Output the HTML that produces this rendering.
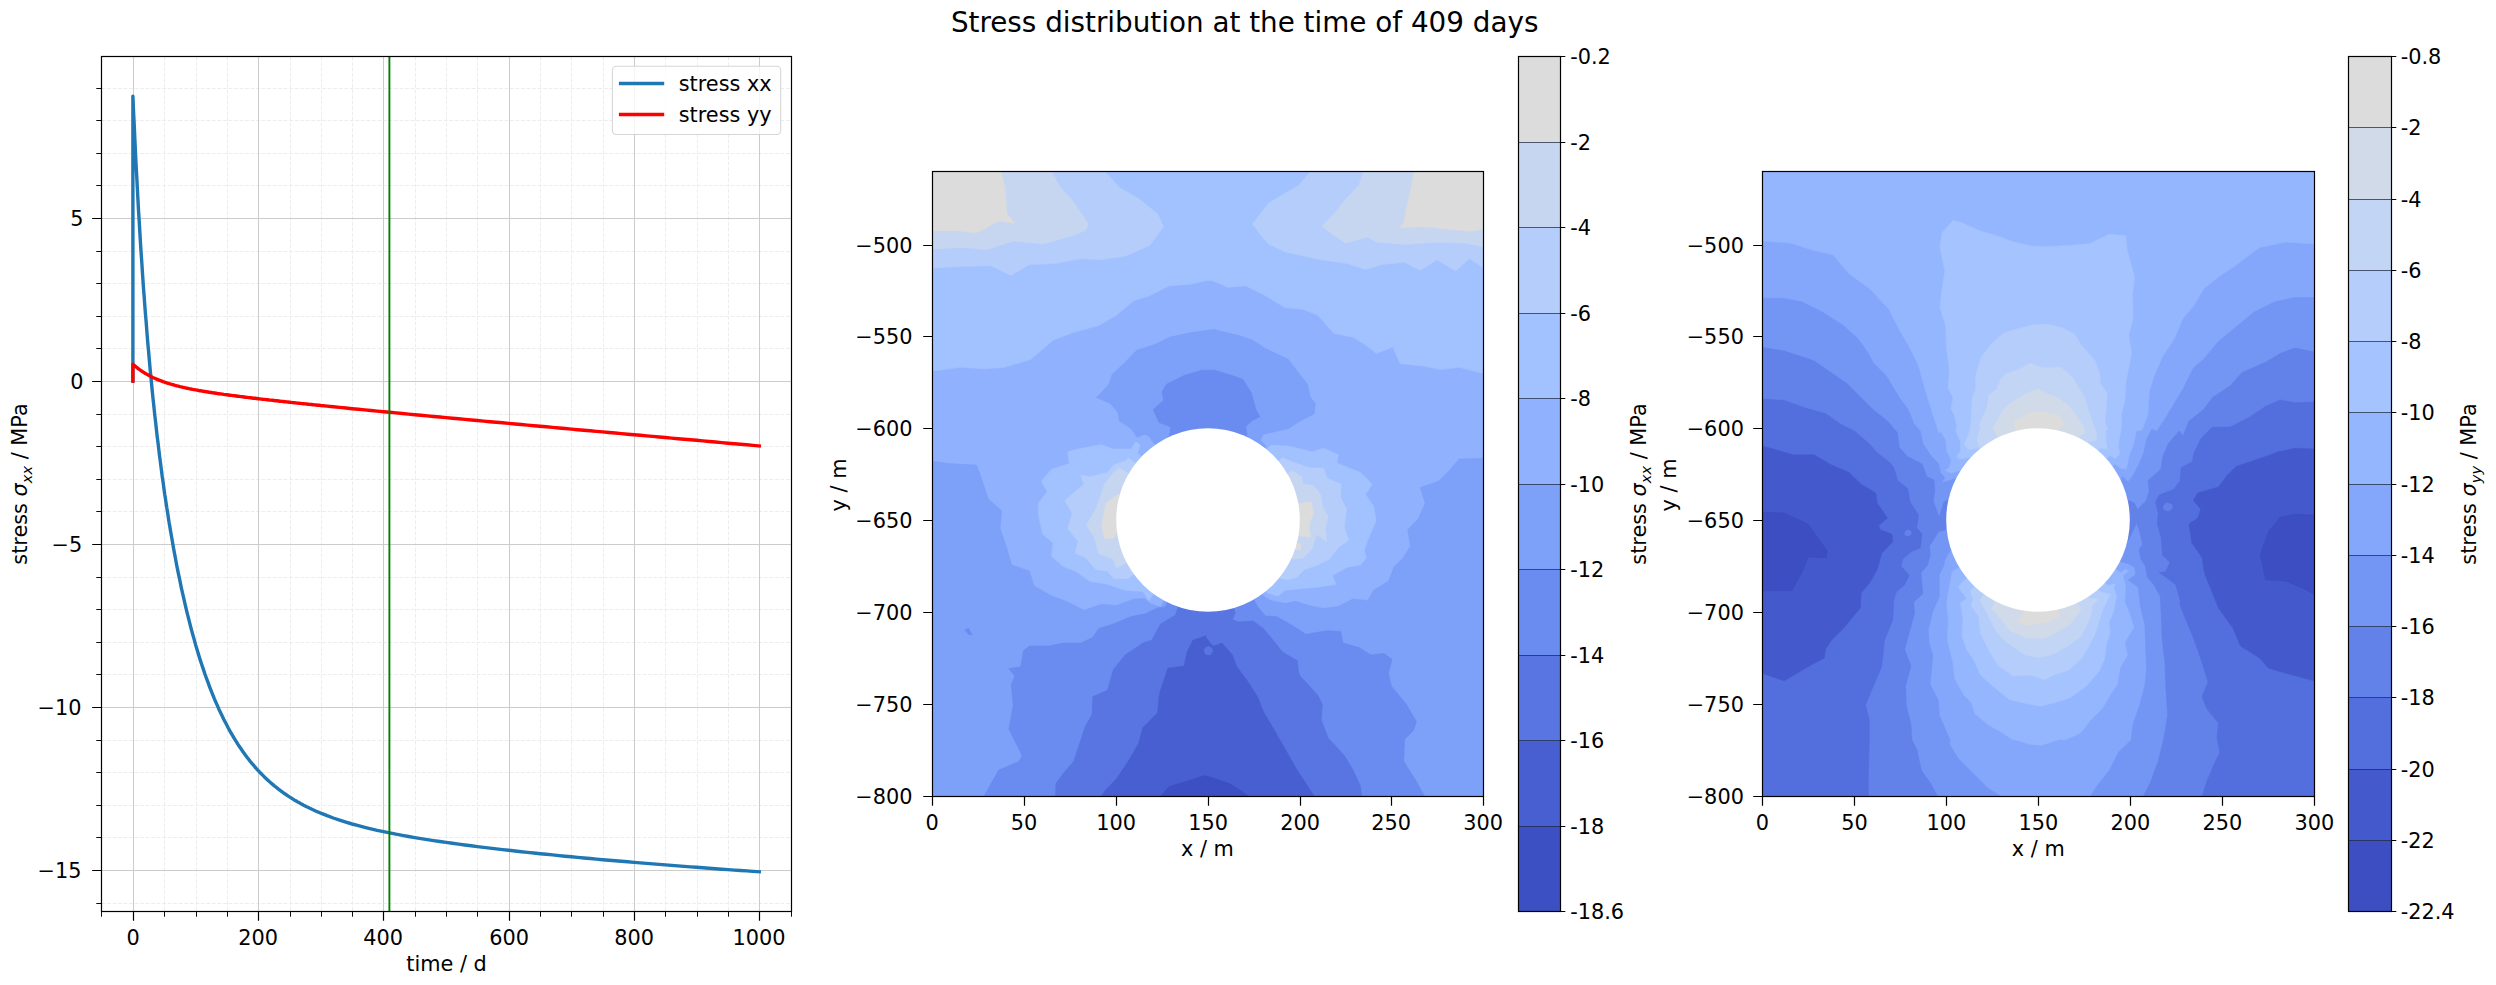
<!DOCTYPE html>
<html lang="en"><head><meta charset="utf-8"><title>Stress distribution at the time of 409 days</title>
<style>html,body{margin:0;padding:0;background:#fff;overflow:hidden}svg{display:block}text{font-family:"DejaVu Sans","Liberation Sans",sans-serif;fill:#000;font-size:20.83px}.t{font-size:27.8px}.i{font-style:italic}.sub{font-style:italic;font-size:14.58px}.sp{fill:none;stroke:#000;stroke-width:1.2}.tk{stroke:#000;stroke-width:1.2;fill:none}.mt{stroke:#000;stroke-width:0.95;fill:none}.gM{stroke:#cccccc;stroke-width:1.04;fill:none}.gm{stroke:#ededed;stroke-width:1.04;fill:none;stroke-dasharray:3.85 1.67}.dv{stroke:#1f2a44;stroke-width:1;fill:none;opacity:.75}</style></head><body>
<svg width="2496" height="985" viewBox="0 0 2496 985" role="img">
<rect width="2496" height="985" fill="#fff"/>
<text class="t" x="950.9" y="31.7">Stress distribution at the time of 409 days</text>
<g id="left-axes">
<clipPath id="cl"><rect x="101.5" y="56.5" width="690.0" height="855.0"/></clipPath>
<g clip-path="url(#cl)">
<path class="gm" d="M164.5,56.5V911.5M196.5,56.5V911.5M227.5,56.5V911.5M290.5,56.5V911.5M321.5,56.5V911.5M352.5,56.5V911.5M415.5,56.5V911.5M446.5,56.5V911.5M477.5,56.5V911.5M540.5,56.5V911.5M571.5,56.5V911.5M603.5,56.5V911.5M665.5,56.5V911.5M697.5,56.5V911.5M728.5,56.5V911.5M101.5,903.5H791.5M101.5,837.5H791.5M101.5,805.5H791.5M101.5,772.5H791.5M101.5,740.5H791.5M101.5,674.5H791.5M101.5,642.5H791.5M101.5,609.5H791.5M101.5,577.5H791.5M101.5,511.5H791.5M101.5,479.5H791.5M101.5,446.5H791.5M101.5,414.5H791.5M101.5,348.5H791.5M101.5,316.5H791.5M101.5,283.5H791.5M101.5,251.5H791.5M101.5,185.5H791.5M101.5,153.5H791.5M101.5,120.5H791.5M101.5,88.5H791.5"/>
<path class="gM" d="M133.5,56.5V911.5M258.5,56.5V911.5M383.5,56.5V911.5M509.5,56.5V911.5M634.5,56.5V911.5M759.5,56.5V911.5M101.5,870.5H791.5M101.5,707.5H791.5M101.5,544.5H791.5M101.5,381.5H791.5M101.5,218.5H791.5"/>
<path d="M132.9,381L132.9,96.1L133.5,110.5L134.2,124.4L134.8,137.9L135.4,150.9L136,163.5L136.7,175.7L137.3,187.5L137.9,199L138.5,210.1L139.2,220.9L139.8,231.4L140.4,241.6L141,251.4L141.7,261L142.3,270.4L142.9,279.5L143.5,288.3L144.2,296.9L144.8,305.3L145.4,313.5L146.1,321.4L146.7,329.2L147.3,336.8L147.9,344.2L148.6,351.4L149.2,358.5L149.8,365.4L150.4,372.1L151.1,378.7L151.7,385.2L152.3,391.5L152.9,397.6L153.6,403.7L154.2,409.6L154.8,415.4L155.5,421.1L156.1,426.7L156.7,432.1L157.3,437.5L158,442.8L158.6,447.9L159.2,453L159.8,457.9L160.5,462.8L161.1,467.6L161.7,472.3L162.3,477L163,481.5L163.6,486L164.2,490.4L164.8,494.7L165.5,499L166.1,503.2L166.7,507.3L167.4,511.3L168,515.3L168.6,519.2L169.2,523.1L169.9,526.9L170.5,530.7L172.1,539.8L173.6,548.6L175.2,557L176.7,565.2L178.3,573.1L179.9,580.7L181.4,588.1L183,595.2L184.6,602.1L186.1,608.7L187.7,615.2L189.3,621.4L190.8,627.4L192.4,633.3L194,638.9L195.5,644.4L197.1,649.7L198.7,654.9L200.2,659.9L201.8,664.7L203.4,669.4L204.9,674L206.5,678.4L208.1,682.7L209.6,686.8L211.2,690.9L212.8,694.8L214.3,698.6L215.9,702.3L217.5,705.9L219,709.4L220.6,712.7L222.2,716L223.7,719.2L225.3,722.3L226.9,725.3L228.4,728.2L230,731.1L231.6,733.8L233.1,736.5L234.7,739.1L236.3,741.6L237.8,744.1L239.4,746.5L241,748.8L242.5,751.1L244.1,753.2L245.7,755.4L247.2,757.5L248.8,759.5L250.3,761.5L251.9,763.4L253.5,765.2L255,767L256.6,768.8L258.2,770.5L259.7,772.2L261.3,773.8L262.9,775.4L264.4,776.9L266,778.4L267.6,779.9L269.1,781.3L270.7,782.7L272.3,784.1L273.8,785.4L275.4,786.7L277,787.9L278.5,789.2L280.1,790.4L281.7,791.5L283.2,792.6L284.8,793.8L286.4,794.8L287.9,795.9L289.5,796.9L291.1,797.9L292.6,798.9L294.2,799.9L295.8,800.8L297.3,801.7L298.9,802.6L300.5,803.5L302,804.3L303.6,805.2L305.2,806L306.7,806.8L308.3,807.5L309.9,808.3L311.4,809L313,809.8L314.6,810.5L316.1,811.2L317.7,811.9L319.3,812.5L320.8,813.2L327.1,815.7L333.3,818L339.6,820.1L345.9,822.1L352.1,824L358.4,825.7L364.7,827.3L370.9,828.8L377.2,830.3L383.5,831.6L389.7,832.9L396,834.2L402.3,835.3L408.5,836.5L414.8,837.6L421,838.6L427.3,839.6L433.6,840.6L439.8,841.5L446.1,842.4L452.4,843.3L458.6,844.1L464.9,845L471.2,845.8L477.4,846.6L483.7,847.4L489.9,848.1L496.2,848.9L502.5,849.6L508.7,850.3L515,851L521.3,851.7L527.5,852.4L533.8,853L540.1,853.7L546.3,854.3L552.6,854.9L558.9,855.6L565.1,856.2L571.4,856.8L577.6,857.4L583.9,858L590.2,858.5L596.4,859.1L602.7,859.7L609,860.2L615.2,860.8L621.5,861.3L627.8,861.8L634,862.4L640.3,862.9L646.5,863.4L652.8,863.9L659.1,864.4L665.3,864.9L671.6,865.4L677.9,865.9L684.1,866.4L690.4,866.9L696.7,867.3L702.9,867.8L709.2,868.3L715.5,868.7L721.7,869.2L728,869.6L734.2,870.1L740.5,870.5L746.8,870.9L753,871.4L759.3,871.8" fill="none" stroke="#1f77b4" stroke-width="3.4" stroke-linejoin="round" stroke-linecap="square"/>
<path d="M132.9,381L132.9,364.2L133.5,364.8L134.2,365.3L134.8,365.9L135.4,366.4L136,366.9L136.7,367.4L137.3,367.9L137.9,368.4L138.5,368.9L139.2,369.3L139.8,369.8L140.4,370.2L141,370.7L141.7,371.1L142.3,371.5L142.9,371.9L143.5,372.3L144.2,372.7L144.8,373.1L145.4,373.5L146.1,373.8L146.7,374.2L147.3,374.6L147.9,374.9L148.6,375.2L149.2,375.6L149.8,375.9L150.4,376.2L151.1,376.5L151.7,376.9L152.3,377.2L152.9,377.5L153.6,377.8L154.2,378L154.8,378.3L155.5,378.6L156.1,378.9L156.7,379.2L157.3,379.4L158,379.7L158.6,379.9L159.2,380.2L159.8,380.4L160.5,380.7L161.1,380.9L161.7,381.1L162.3,381.4L163,381.6L163.6,381.8L164.2,382L164.8,382.3L165.5,382.5L166.1,382.7L166.7,382.9L167.4,383.1L168,383.3L168.6,383.5L169.2,383.7L169.9,383.9L170.5,384L172.1,384.5L173.6,384.9L175.2,385.4L176.7,385.8L178.3,386.2L179.9,386.6L181.4,386.9L183,387.3L184.6,387.7L186.1,388L187.7,388.3L189.3,388.7L190.8,389L192.4,389.3L194,389.6L195.5,389.9L197.1,390.2L198.7,390.5L200.2,390.7L201.8,391L203.4,391.3L204.9,391.5L206.5,391.8L208.1,392L209.6,392.3L211.2,392.5L212.8,392.8L214.3,393L215.9,393.2L217.5,393.5L219,393.7L220.6,393.9L222.2,394.1L223.7,394.4L225.3,394.6L226.9,394.8L228.4,395L230,395.2L231.6,395.4L233.1,395.6L234.7,395.8L236.3,396L237.8,396.2L239.4,396.4L241,396.6L242.5,396.8L244.1,397L245.7,397.2L247.2,397.4L248.8,397.6L250.3,397.8L251.9,398L253.5,398.2L255,398.3L256.6,398.5L258.2,398.7L259.7,398.9L261.3,399.1L262.9,399.3L264.4,399.4L266,399.6L267.6,399.8L269.1,400L270.7,400.1L272.3,400.3L273.8,400.5L275.4,400.7L277,400.8L278.5,401L280.1,401.2L281.7,401.4L283.2,401.5L284.8,401.7L286.4,401.9L287.9,402L289.5,402.2L291.1,402.4L292.6,402.6L294.2,402.7L295.8,402.9L297.3,403.1L298.9,403.2L300.5,403.4L302,403.6L303.6,403.7L305.2,403.9L306.7,404L308.3,404.2L309.9,404.4L311.4,404.5L313,404.7L314.6,404.9L316.1,405L317.7,405.2L319.3,405.3L320.8,405.5L327.1,406.1L333.3,406.8L339.6,407.4L345.9,408L352.1,408.7L358.4,409.3L364.7,409.9L370.9,410.5L377.2,411.1L383.5,411.7L389.7,412.3L396,412.9L402.3,413.5L408.5,414.1L414.8,414.7L421,415.3L427.3,415.9L433.6,416.5L439.8,417L446.1,417.6L452.4,418.2L458.6,418.8L464.9,419.4L471.2,420L477.4,420.5L483.7,421.1L489.9,421.7L496.2,422.3L502.5,422.8L508.7,423.4L515,424L521.3,424.5L527.5,425.1L533.8,425.7L540.1,426.3L546.3,426.8L552.6,427.4L558.9,428L565.1,428.5L571.4,429.1L577.6,429.7L583.9,430.2L590.2,430.8L596.4,431.4L602.7,431.9L609,432.5L615.2,433L621.5,433.6L627.8,434.2L634,434.7L640.3,435.3L646.5,435.9L652.8,436.4L659.1,437L665.3,437.5L671.6,438.1L677.9,438.7L684.1,439.2L690.4,439.8L696.7,440.3L702.9,440.9L709.2,441.5L715.5,442L721.7,442.6L728,443.2L734.2,443.7L740.5,444.3L746.8,444.8L753,445.4L759.3,446" fill="none" stroke="#ff0000" stroke-width="3.4" stroke-linejoin="round" stroke-linecap="square"/>
<path d="M389.4,56.5V911.5" stroke="#008000" stroke-width="1.9" fill="none"/>
</g>
<rect class="sp" x="101.5" y="56.5" width="690.0" height="855.0"/>
<path class="tk" d="M133.5,911.5v9.3M258.5,911.5v9.3M383.5,911.5v9.3M509.5,911.5v9.3M634.5,911.5v9.3M759.5,911.5v9.3M101.5,870.5h-9.3M101.5,707.5h-9.3M101.5,544.5h-9.3M101.5,381.5h-9.3M101.5,218.5h-9.3"/>
<path class="mt" d="M101.5,911.5v5.2M164.5,911.5v5.2M196.5,911.5v5.2M227.5,911.5v5.2M290.5,911.5v5.2M321.5,911.5v5.2M352.5,911.5v5.2M415.5,911.5v5.2M446.5,911.5v5.2M477.5,911.5v5.2M540.5,911.5v5.2M571.5,911.5v5.2M603.5,911.5v5.2M665.5,911.5v5.2M697.5,911.5v5.2M728.5,911.5v5.2M791.5,911.5v5.2M101.5,903.5h-5.2M101.5,837.5h-5.2M101.5,805.5h-5.2M101.5,772.5h-5.2M101.5,740.5h-5.2M101.5,674.5h-5.2M101.5,642.5h-5.2M101.5,609.5h-5.2M101.5,577.5h-5.2M101.5,511.5h-5.2M101.5,479.5h-5.2M101.5,446.5h-5.2M101.5,414.5h-5.2M101.5,348.5h-5.2M101.5,316.5h-5.2M101.5,283.5h-5.2M101.5,251.5h-5.2M101.5,185.5h-5.2M101.5,153.5h-5.2M101.5,120.5h-5.2M101.5,88.5h-5.2"/>
<text x="133.1" y="944.8" text-anchor="middle">0</text>
<text x="258.1" y="944.8" text-anchor="middle">200</text>
<text x="383.1" y="944.8" text-anchor="middle">400</text>
<text x="509.1" y="944.8" text-anchor="middle">600</text>
<text x="634.1" y="944.8" text-anchor="middle">800</text>
<text x="759.1" y="944.8" text-anchor="middle">1000</text>
<text x="81.5" y="877.9" text-anchor="end">−15</text>
<text x="81.5" y="714.9" text-anchor="end">−10</text>
<text x="82.3" y="551.9" text-anchor="end">−5</text>
<text x="83.6" y="388.9" text-anchor="end">0</text>
<text x="83.6" y="225.9" text-anchor="end">5</text>
<text x="446.5" y="970.6" text-anchor="middle">time / d</text>
<text transform="translate(27.3,484) rotate(-90)" text-anchor="middle">stress <tspan class="i">σ</tspan><tspan class="sub" dy="4.2">xx</tspan><tspan dy="-4.2"> / MPa</tspan></text>
<rect x="612.4" y="66.2" width="168.3" height="68.3" rx="4" ry="4" fill="#fff" fill-opacity="0.8" stroke="#cccccc" stroke-opacity="0.8" stroke-width="1.1"/>
<path d="M620.6,83.5H662.5" stroke="#1f77b4" stroke-width="3.4" stroke-linecap="square" fill="none"/>
<path d="M620.6,114.5H662.5" stroke="#ff0000" stroke-width="3.4" stroke-linecap="square" fill="none"/>
<text x="678.7" y="91.2">stress xx</text>
<text x="678.7" y="121.6">stress yy</text>
</g>
<g id="mid">
<clipPath id="cmid"><rect x="932.5" y="171.5" width="551.0" height="625.0"/></clipPath>
<g clip-path="url(#cmid)" shape-rendering="geometricPrecision">
<rect x="932.5" y="171.5" width="551.0" height="625.0" fill="#90b2fe"/>
<path d="M920.5,159.5L1495.5,159.5L1495.5,376.4L1459.1,367.3L1439.9,369.6L1423.8,366.1L1400.2,363.7L1392.8,346.9L1376.6,353.4L1364.9,344.6L1353.1,337.2L1334,333.4L1317.8,315.2L1303,309.3L1285.4,307.8L1263.3,294.5L1245.6,285.7L1228,287.2L1211.8,280.4L1207.6,280.4L1190,284.2L1169.4,285.7L1148.8,296L1134,300.4L1116.4,315.2L1098.7,325.5L1072.2,332.8L1053.1,340.2L1031,359.3L1003,367.6L983.9,368.7L960.3,367.3L920.5,372.6ZM1137.6,453.2L1139.9,444.7L1135.5,441.8L1131.1,449.1L1113.4,449.1L1101.6,444.7L1078.1,449.1L1067.8,451.8L1069.3,463.6L1051.6,469.4L1041.3,481.2L1047.2,491.5L1038.4,503.3L1038.4,515.1L1042.8,534.2L1053.1,543L1051.6,556.3L1063.4,566.6L1075.2,571L1089.9,581.3L1107.5,584.3L1125.2,590.2L1142.9,591.6L1148.8,600.5L1208,520ZM1270.7,445.3L1288.3,445.9L1311.9,451.8L1323.7,448.2L1338.4,454.7L1336.9,463L1360.5,472.4L1372.2,484.2L1365.5,494.5L1373.7,506.2L1376.1,521L1367.8,540.1L1364.3,550.4L1366.3,557.8L1360.5,565.1L1347.2,567.2L1332.5,575.4L1336,584.3L1317.8,587.2L1300.1,588.7L1285.4,590.2L1278,596L1267.7,593.1L1208,520Z" fill="#a2c1ff" stroke="#a2c1ff" stroke-width="0.6"/>
<path d="M1104.6,159.5L1104.6,171.5L1120.8,188.6L1137,197.4L1157.6,213.6L1163.5,226.8L1150.2,245.1L1125.2,256.3L1098.7,259.8L1081,258.6L1054.5,263.6L1029.5,264.5L1011,275.4L990.4,265.7L960.3,266.6L932.7,268L920.5,268L920.5,159.5ZM1310.4,159.5L1310.4,171.5L1298.6,185.6L1285.4,193L1269.2,202.7L1260.4,213.6L1252.4,223.9L1263.3,238.6L1269.2,244.5L1285.4,251.9L1317.8,259.2L1347.2,263.6L1364.9,269.5L1382.5,264.5L1404.6,262.2L1420.2,270.4L1437,259.8L1455.6,271L1469.4,258.6L1483.5,268L1495.5,268L1495.5,159.5ZM1128.1,457.7L1126.7,460.6L1113.4,465L1107.5,472.4L1089.9,476.8L1081,475.3L1084,484.2L1075.2,491.5L1064.8,500.4L1072.2,513.6L1067.8,528.3L1078.1,541.6L1075.2,553.4L1085.5,557.8L1095.8,569.5L1107.5,571L1113.4,578.4L1128.1,578.4L1208,520ZM1282.4,457.7L1297.2,463.6L1310.4,468L1323.7,468L1327.2,478.3L1341.3,484.2L1340.7,497.4L1346.6,509.2L1344.3,526.9L1348.7,540.1L1338.4,547.5L1329.5,559.2L1317.8,565.1L1304.5,569.5L1297.2,576.9L1288.3,579.8L1281,578.4L1208,520Z" fill="#b5cdfa" stroke="#b5cdfa" stroke-width="0.6"/>
<path d="M1051.6,159.5L1051.6,171.5L1059,185.6L1072.2,200.3L1088.4,223.9L1085.5,230.4L1072.2,235.7L1042.8,243.9L1013.3,241L986.8,249.5L963.3,247.4L932.7,248.9L920.5,248.9L920.5,159.5ZM1363.4,159.5L1363.4,171.5L1359,185.6L1347.2,197.4L1336.9,210.6L1322.2,226.2L1332.5,234.2L1345.7,243L1367.8,237.1L1376.6,242.1L1406.1,244.5L1435.5,242.1L1465,243L1483.5,246.8L1495.5,246.8L1495.5,159.5ZM1119.3,468L1113.4,472.4L1104.6,484.2L1100.2,497.4L1095.8,509.2L1086.3,525.4L1094.3,537.2L1098.7,553.4L1113.4,559.2L1116.4,568.1L1122.3,565.1L1208,520ZM1292.7,470.9L1301.6,476.8L1303,484.2L1313.4,485.6L1320.7,494.5L1322.2,506.2L1328.1,516.5L1325.1,528.3L1326.6,541.6L1316.3,534.2L1311.9,548.9L1303,557.8L1293.6,559.2L1208,520Z" fill="#c6d6f1" stroke="#c6d6f1" stroke-width="0.6"/>
<path d="M1001,159.5L1001,171.5L1005.1,188.6L1006.8,213.6L1014.8,223.3L998.6,220.9L985.4,228.3L976.5,232.7L954.4,230.4L932.7,230.4L920.5,230.4L920.5,159.5ZM1414.3,159.5L1414.3,171.5L1410.5,191.5L1406.1,209.2L1404.6,220.9L1400.2,227.4L1423.8,226.8L1450.3,229.2L1469.4,231.2L1483.5,229.2L1495.5,229.2L1495.5,159.5ZM1117.8,494.5L1106.1,503.3L1101.6,525.4L1104.6,538.6L1113.4,538.6L1117.8,531.3L1208,520ZM1300.1,503.3L1311.3,501.8L1313.4,513.6L1308.9,525.4L1310.4,537.2L1298.6,535.7L1208,520ZM1293.6,543.6L1300.1,543.6L1300.7,549.5L1294.8,549.5Z" fill="#dddcdc" stroke="#dddcdc" stroke-width="0.6"/>
<path d="M1148.8,435.9L1144.3,434.4L1137,437.3L1131.1,428.5L1119.3,421.1L1117.8,412.3L1110.5,403.5L1096.4,397.6L1109,384.3L1112,374.6L1125.2,362.3L1137,349.9L1154.6,344.6L1169.4,337.2L1190,332.8L1215,329.3L1217.7,330.5L1238.3,335.2L1253,340.2L1266.2,349L1288.3,359.3L1297.2,371.1L1307.5,384.3L1310.4,397.6L1315.4,403.5L1314.2,413.8L1300.1,421.1L1288.3,428.5L1263.3,434.4L1260.4,440.3L1266.2,446.2L1208,520ZM920.5,459.1L948.6,463.6L976.5,465L982.4,481.2L988.3,498.9L1001.5,510.7L1000.1,528.3L1006,546L1011.9,565.1L1029.5,571L1033.9,585.7L1051.6,596L1066.3,601.3L1084,610.2L1101.6,604.3L1116.4,605.5L1134,599L1144.3,598.4L1150.2,603.4L1160.5,607.2L1208,520L1263.3,596L1270.7,600.5L1285.4,603.4L1295.7,601.3L1311.9,606.3L1323.7,608.4L1338.4,606.3L1353.1,599L1367.8,600.5L1373.7,590.2L1388.4,581.3L1394.3,566.6L1403.1,557.8L1410.5,546L1407.6,529.8L1417.9,519.5L1425.2,503.3L1420.2,487.7L1438.5,481.2L1450.3,469.4L1459.1,459.1L1483.5,458.3L1495.5,458.3L1495.5,808.5L920.5,808.5Z" fill="#7da0f9" stroke="#7da0f9" stroke-width="0.6"/>
<path d="M1169.4,435.9L1170.8,427L1159.1,422.6L1153.2,409.4L1163.5,400.5L1162,391.7L1166.4,384.3L1184.1,375.5L1201.8,370.2L1215,370.2L1214.7,370.2L1229.4,374.6L1242.7,379.3L1251.5,393.2L1255.9,409.4L1259.8,416.7L1251.5,421.1L1245.6,427L1247.1,434.4L1208,520ZM982.4,799.7L985.4,793.8L991.2,783.5L998.6,770.3L1019.2,761.4L1022.2,755.5L1016.3,743.8L1008.9,729L1013.3,705.5L1011.3,684.9L1014.8,676L1008.9,668.7L1020.7,666.7L1023.6,650.5L1029.5,646.1L1048.7,646.1L1063.4,643.1L1081,643.1L1092.8,637.3L1098.7,628.4L1113.4,624L1131.1,616.6L1145.8,613.7L1157.6,607.8L1164.9,607.2L1208,520L1255.9,603.4L1257.4,606.3L1265.4,616.1L1276.5,616.6L1291.3,624.9L1306,634.3L1326.6,630.8L1340.7,631.4L1342.8,643.1L1359,647.6L1370.8,654.9L1384,653.5L1392,659.3L1388.4,673.1L1391.4,686.3L1406.1,704L1416.4,721.7L1413.5,730.5L1404.6,739.3L1403.7,761.4L1414.9,779.1L1426.7,799.7ZM964.7,629.9L968.6,628.4L972.1,634.9L968.6,634.3Z" fill="#6a8bef" stroke="#6a8bef" stroke-width="0.6"/>
<path d="M1055.4,799.7L1056,783.5L1063.4,773.2L1073.7,761.4L1079.6,743.8L1085.5,726.1L1092.2,714.3L1092.8,696.6L1107.5,690.3L1113.4,669.6L1125.2,654.9L1142.9,643.1L1151.7,640.2L1160.5,624L1175.3,615.2L1208,520L1235.3,613.1L1232.4,619.6L1238.3,621.9L1253,621.1L1263.3,628.4L1270.7,637.3L1282.4,652L1297.2,660.8L1298.6,672.6L1300.1,676L1317.8,695.2L1322.2,704L1321.3,720.2L1328.1,737.9L1344.3,755.5L1353.1,770.3L1360.5,786.4L1361.9,799.7Z" fill="#5875e1" stroke="#5875e1" stroke-width="0.6"/>
<path d="M1098.7,799.7L1106.1,789.4L1116.4,779.1L1128.1,761.4L1138.5,743.8L1142.9,727.6L1157.6,712.8L1159.1,696.6L1160.5,690.3L1167.9,668.2L1184.1,666.1L1187,652L1192.9,640.2L1206.2,635.8L1205.9,637.3L1210.3,643.1L1213.2,646.1L1222.1,643.1L1232.4,654.9L1236.8,666.7L1247.1,680.5L1257.4,696.6L1263.3,711.4L1273.6,729L1285.4,749.6L1297.2,770.3L1308.9,787.9L1316.3,799.7Z" fill="#485fd1" stroke="#485fd1" stroke-width="0.6"/>
<path d="M1160.5,799.7L1160.5,796.2L1169.4,786.4L1184.1,782L1204.7,775.6L1211.8,777.6L1229.4,783.5L1241.2,790.9L1248.6,796.2L1248.6,799.7Z" fill="#3d50c3" stroke="#3d50c3" stroke-width="0.6"/>
<path d="M1208.2,646.1L1212.1,647.9L1212.9,651.4L1210.6,654.9L1206.2,654.9L1203.8,651.4L1204.7,647.9Z" fill="#5875e1"/>
<circle cx="1208.0" cy="520.0" r="91.8" fill="#fff"/>
</g>
<rect class="sp" x="932.5" y="171.5" width="551.0" height="625.0"/>
<path class="tk" d="M932.5,796.5v9.3M1024.5,796.5v9.3M1116.5,796.5v9.3M1208.5,796.5v9.3M1300.5,796.5v9.3M1391.5,796.5v9.3M1483.5,796.5v9.3M932.5,796.5h-9.3M932.5,704.5h-9.3M932.5,612.5h-9.3M932.5,520.5h-9.3M932.5,428.5h-9.3M932.5,336.5h-9.3M932.5,245.5h-9.3"/>
<text x="932.1" y="829.8" text-anchor="middle">0</text>
<text x="1024.1" y="829.8" text-anchor="middle">50</text>
<text x="1116.1" y="829.8" text-anchor="middle">100</text>
<text x="1208.1" y="829.8" text-anchor="middle">150</text>
<text x="1300.1" y="829.8" text-anchor="middle">200</text>
<text x="1391.1" y="829.8" text-anchor="middle">250</text>
<text x="1483.1" y="829.8" text-anchor="middle">300</text>
<text x="912.5" y="803.9" text-anchor="end">−800</text>
<text x="912.5" y="711.9" text-anchor="end">−750</text>
<text x="912.5" y="619.9" text-anchor="end">−700</text>
<text x="912.5" y="527.9" text-anchor="end">−650</text>
<text x="912.5" y="435.9" text-anchor="end">−600</text>
<text x="912.5" y="343.9" text-anchor="end">−550</text>
<text x="912.5" y="252.9" text-anchor="end">−500</text>
<text x="1207.4" y="855.8" text-anchor="middle">x / m</text>
<text transform="translate(846.2,485) rotate(-90)" text-anchor="middle">y / m</text>
</g>
<g id="right">
<clipPath id="cright"><rect x="1762.5" y="171.5" width="552.0" height="625.0"/></clipPath>
<g clip-path="url(#cright)" shape-rendering="geometricPrecision">
<rect x="1762.5" y="171.5" width="552.0" height="625.0" fill="#84a7fc"/>
<path d="M1750.5,159.5L2326.5,159.5L2326.5,243.9L2314.1,243.9L2286.1,242.1L2259.6,247.4L2236.1,265.1L2218.4,276.9L2203.7,288.7L2193.4,306.3L2183.1,318.1L2174.3,338.7L2162.5,356.4L2153.7,377L2149.2,391.7L2147.8,415.3L2141.9,430L2136.3,431L2133.6,443.8L2129,456.5L2126.3,469.3L2120.8,468.4L2115.3,463.9L2038,520L1960.5,470.2L1951.4,473L1945,470.2L1949.5,467.5L1951.4,460.2L1946.8,451.1L1945.9,440.1L1940.4,431L1939,432.9L1933.1,415.3L1925.8,391.7L1918.4,365.2L1908.1,344.6L1899.3,329.9L1889,309.3L1869.8,288.7L1849.2,273.9L1833,254.8L1813.9,250.4L1790.3,243L1762.7,241L1750.5,241ZM2121,572.8L2125.6,569.1L2128.3,571L2122.8,575.5L2125.6,585.6L2124.7,602L2129.2,613L2133.8,627.6L2124.7,642.2L2127.4,655L2120.1,667.8L2117.4,684.2L2110,695.2L2102.7,708L2090,720.8L2080.8,732.7L2065.3,740L2059.4,739.3L2041.8,745.2L2030,744.3L2014.1,739.3L2013.3,740L2002.3,732.7L1987.7,724.4L1974.9,713.5L1971.3,702.5L1964,695.2L1954.8,678.8L1953,662.3L1947.5,640.4L1948.4,620.3L1946.6,603.9L1949.3,587.4L1952.1,571.9L1953,571L2038,520Z" fill="#94b6ff" stroke="#94b6ff" stroke-width="0.6"/>
<path d="M1971.8,457.1L1959.6,459.3L1956.8,456.5L1960.5,451.1L1960.5,441.9L1955.9,431L1956.8,425.7L1954.6,415.5L1951,408.9L1953.2,397.9L1948,387.7L1949.5,370.2L1946.6,348.2L1945.8,326.3L1942.2,314.6L1940,307.3L1942,288.7L1944.9,271L1939.9,247.4L1942,232.7L1952.8,220.4L1961.1,222.4L1978.8,230.4L1996.4,235.7L2014.1,242.1L2031.8,246L2045,246.8L2059.4,246L2088.9,243.9L2109.5,234.2L2125.7,235.7L2127.2,250.4L2134.5,276.9L2132.5,294.5L2133,318.1L2128.6,335.8L2131.6,353.4L2125.7,382.9L2124.8,400.5L2121.3,415.3L2121.7,420L2120.8,431L2118.1,445.6L2119.9,453.8L2115.3,458.4L2109.9,455.6L2038,520ZM2108.2,585.6L2115.5,583.8L2113.7,587.4L2116.4,596.5L2113.7,611.2L2109.1,622.1L2110,633.1L2106.4,644L2104.6,658.7L2099.1,671.5L2086.3,686.1L2069.9,697.9L2055.2,702.5L2040.6,706.2L2026,703.4L2009.6,699.8L1995,687.9L1980.4,675.1L1974,660.5L1966.7,649.5L1962.1,636.7L1963,618.5L1960.3,602.9L1966.7,598.4L1958.5,587.4L1961.2,582.8L2038,520Z" fill="#a5c3fe" stroke="#a5c3fe" stroke-width="0.6"/>
<path d="M1981.5,448.3L1967.8,449.2L1964.5,443.8L1969.6,431.9L1970,431.5L1971.4,416.9L1972.2,397.9L1975.8,389.2L1975.8,376L1978.7,365.8L1981.7,356.3L1992.6,342.4L2004.3,332.9L2018.9,328.5L2033.5,324.8L2046.3,324.1L2062.4,327.8L2074.8,334.3L2081.4,345.3L2094.5,359.9L2099.7,373.1L2100.4,383.3L2107,393.5L2106.2,411.1L2104.8,421.3L2107.7,430.1L2105.3,431L2106.2,443.8L2107.1,449.2L2100.7,447.4L2038,520ZM2099.1,591.1L2110,594.7L2103.7,607.5L2099.1,620.3L2095.4,633.1L2088.1,647.7L2080.8,659.6L2068,670.5L2055.2,674.2L2044.3,679.7L2035.1,676L2026,675.1L2013.3,676L1998.7,666L1989.5,651.4L1980.4,633.1L1978.6,616.6L1971.3,605.7L1973.1,599.3L1970.3,591.1L2038,520Z" fill="#b5cdfa" stroke="#b5cdfa" stroke-width="0.6"/>
<path d="M1978.8,444.7L1976.9,438.3L1980.6,429.1L1979.5,424.2L1986.8,408.2L1989,395L1996.3,389.9L2000.7,379.7L2005,374.5L2018.9,369.4L2030.6,363.1L2043.4,368L2060.9,367.2L2072.6,377.5L2078.5,387.7L2084.3,396.5L2088.7,411.1L2093.1,424.2L2096.7,434.5L2096,440.3L2088.7,441.8L2038,520ZM2089,598.4L2098.2,599.3L2091.8,605.7L2091.8,613L2086.3,625.8L2080.8,636.7L2068,645.9L2053.4,654.1L2038.8,657.8L2026,655L2016.9,649.5L2004.1,640.4L1995,629.4L1987.7,614.8L1981.3,602.9L1980.4,599.3L2038,520Z" fill="#c3d5f4" stroke="#c3d5f4" stroke-width="0.6"/>
<path d="M1998.5,438.1L1996.3,434.5L1993.3,428.6L1997.7,419.8L2004.3,408.2L2013.1,401.6L2027.7,392.8L2037.9,388.9L2046.3,393.5L2058,397.9L2068.2,405.2L2077,416.9L2084.3,428.6L2084.3,433L2079.9,436.7L2038,520ZM2078.1,604.8L2080.8,608.4L2079,613L2069.9,624L2057.1,632.2L2044.3,638.2L2026,637.7L2020.6,634.9L2009.6,630.3L2002.3,620.3L1991.4,608.4L1993.2,605.7L2038,520Z" fill="#d1dae9" stroke="#d1dae9" stroke-width="0.6"/>
<path d="M2015.3,430.8L2014.5,420.6L2024,416.9L2030.6,412.2L2045.2,412.5L2043.4,412.2L2058.7,415.5L2064.6,424.2L2059.5,429.3L2038,520ZM2024.2,611.2L2017.9,622.1L2027.9,624.9L2038.9,624L2049.8,621.2L2059.8,616.6L2058.9,612.1L2038,520Z" fill="#dddcdc" stroke="#dddcdc" stroke-width="0.6"/>
<path d="M1750.5,298.4L1762.7,298.4L1784.4,298.4L1802.1,301.9L1822.7,312.2L1843.3,325.5L1858,338.7L1868.4,353.4L1872.8,362.3L1886,375.5L1899.3,397.6L1908.1,409.4L1914,424.1L1920.3,431L1923,443.8L1930.3,454.7L1938.6,463.9L1940.4,473L1945,477.6L1941.3,483L1955.9,478.5L1968,520L1944.8,560L1943.9,565.5L1939.3,574.6L1939.3,596.5L1932.9,611.2L1928.3,629.4L1929.2,644L1932.9,655L1930.1,684.2L1938.4,700.7L1939.3,715.3L1945.7,729.9L1950.2,740L1949.3,743.8L1958.1,758.5L1972.9,773.2L1987.6,787.9L2000.8,796.2L2002.3,802.6L1750.5,808.5ZM2326.5,297.5L2314.1,297.5L2295,297.5L2274.4,301.9L2253.8,312.2L2236.1,326.9L2218.4,341.6L2203.7,359.3L2193.4,368.1L2183.1,388.8L2174.3,403.5L2165.4,418.2L2156.6,431.4L2151.9,429.1L2146.4,440.1L2143.7,452.9L2139.1,463.9L2133.6,474.8L2128.1,482.1L2122.6,476.6L2108,520L2121,561.8L2128.3,563.7L2134.7,567.3L2135.6,574.6L2128.3,580.1L2138.4,587.4L2140.2,605.7L2144.8,624L2145.7,647.7L2146.6,669.6L2144.8,686.1L2139.3,706.2L2132.9,724.4L2131.1,740L2118.3,752.6L2109.5,770.3L2097.7,785L2090.4,796.2L2088.9,802.6L2326.5,808.5Z" fill="#7396f5" stroke="#7396f5" stroke-width="0.6"/>
<path d="M1750.5,347.5L1762.7,347.5L1784.4,351.1L1813.9,360.8L1828.6,371.1L1846.3,382.9L1861,397.6L1872.8,409.4L1887.5,421.1L1897.5,432.8L1899.3,447.4L1907.5,456.5L1922.1,463.9L1926.7,476.6L1934,480.3L1934.9,491.3L1933.2,500.9L1939.3,517.2L1943.9,501.9L1948.4,499.9L1968,520L1946.8,529.6L1938.6,531.5L1933.1,540.6L1929.4,546.1L1930.3,555.2L1927.4,565.5L1921,572.8L1922.8,593.8L1913.7,602L1914.6,613L1909.1,633.1L1904.6,649.5L1911,666L1905.5,686.1L1906.4,706.2L1911,724.4L1911.9,740L1916.9,749.6L1921.3,770.3L1931.6,785L1937.5,796.2L1939,802.6L1750.5,808.5ZM2326.5,352L2314.1,352L2295,348.1L2280.3,353.4L2265.5,362.3L2242,372.6L2230.2,385.8L2212.5,397.6L2203.7,409.4L2189,421.1L2183.1,435.9L2179.3,431L2168.3,443.8L2162.8,456.5L2161,469.3L2148.2,480.3L2149.1,491.3L2146.4,500.4L2137.3,509.5L2134.5,503.1L2129,500.4L2108,520L2128.1,540.6L2134.5,527.8L2136.3,522.3L2139.1,529.6L2142.7,544.2L2139.1,549.7L2140.9,558.9L2145.5,566.2L2147.3,577.1L2153.7,584.4L2160.3,596.5L2161.2,614.8L2162.1,638.6L2164.9,662.3L2165.8,687.9L2167.6,715.3L2164,737.9L2158.1,761.4L2150.7,782L2143.4,796.2L2141.9,802.6L2326.5,808.5Z" fill="#6282ea" stroke="#6282ea" stroke-width="0.6"/>
<path d="M1750.5,399.1L1762.7,399.1L1784.4,400.5L1805.1,407.9L1825.7,413.8L1840.4,424.1L1855.1,431.4L1869.1,443.8L1878.3,453.8L1889.2,462L1893.8,467.5L1897.5,480.3L1907.5,488.5L1910.2,502.2L1918.5,515L1916.6,527.8L1922.1,534.2L1920.3,547.9L1911.2,551.6L1902.9,558.9L1901.1,566.2L1909.3,575.3L1904.8,584.4L1896.5,591.8L1893.8,600L1892.8,619.6L1884.5,640.2L1881.6,666.7L1872.8,687.3L1865.4,705L1869.2,719.7L1869.2,743.8L1868.4,770.3L1868.4,802.6L1750.5,808.5ZM2326.5,402L2314.1,402L2295,402.9L2280.3,399.9L2265.5,406.4L2247.9,418.2L2230.2,427L2212.2,427.3L2201.2,438.3L2193.9,452.9L2192.1,462L2181.1,467.5L2180.2,480.3L2173.8,489.4L2159.2,494.9L2155.5,502.2L2158.3,513.2L2157.4,524.1L2161,536.9L2162.8,555.2L2170.1,562.5L2165.6,571.7L2159.2,572.6L2168.3,579L2175.6,584.4L2180.2,600L2180.2,605.4L2186,620.1L2193.4,637.8L2200.8,658.4L2208.1,681.9L2202.2,696.6L2206.6,708.4L2218.4,723.1L2217,737.9L2219.9,752.6L2214,764.4L2206.6,782L2202.2,796.2L2202.2,802.6L2326.5,808.5Z" fill="#536edd" stroke="#536edd" stroke-width="0.6"/>
<path d="M1750.5,446.2L1762.7,446.2L1778.6,450.6L1793.3,455L1813.9,454.7L1831.5,465L1849.2,472.4L1861,484.2L1875.7,493L1877.2,503.3L1887.5,518L1878.7,525.4L1880.1,529.8L1891.9,534.2L1892.8,541.6L1881.6,553.4L1877.2,569.5L1869.8,582.8L1861,593.1L1860.4,607.8L1843.3,628.4L1831.5,640.2L1825.7,649L1824.2,657.9L1808,666.7L1784.4,680.8L1772.7,677L1762.7,673.2L1750.5,673.2ZM2326.5,449.1L2314.1,449.1L2295,448.2L2277.3,452.1L2269.9,455L2253.8,460.6L2236.1,466.5L2227.3,475.3L2218.4,487.1L2197.8,493L2193.4,500.4L2200.8,509.2L2197.8,518L2189,523.9L2191.9,543L2202.2,557.8L2204.3,572.5L2212.5,593.1L2218.4,607.8L2233.1,628.4L2240.5,646.1L2259.6,657.9L2268.5,668.2L2289.1,674.1L2314.1,680.8L2326.5,680.8Z" fill="#445acc" stroke="#445acc" stroke-width="0.6"/>
<path d="M1750.5,512.1L1762.7,512.1L1784.4,513L1808,523.9L1827.1,550.4L1826.5,557.8L1808,557.2L1802.1,572.5L1791.8,590.7L1762.7,590.7L1750.5,590.7ZM2326.5,515.1L2314.1,515.1L2295,514.2L2280.3,517.1L2268.5,531.3L2260.2,554.8L2265.5,579.8L2286.1,581.3L2303.8,588.7L2314.1,594.6L2326.5,594.6Z" fill="#3c4ec2" stroke="#3c4ec2" stroke-width="0.6"/>
<path d="M1904.8,531.5L1907.9,529.3L1911.5,531.5L1911.2,535.1L1907.1,536.2L1904.4,534.4Z" fill="#6282ea"/>
<path d="M2162.8,505.9L2166.5,502.6L2172,504L2172.9,508.6L2168.3,511.4L2163.8,509.9Z" fill="#6282ea"/>
<circle cx="2038.0" cy="520.0" r="91.8" fill="#fff"/>
</g>
<rect class="sp" x="1762.5" y="171.5" width="552.0" height="625.0"/>
<path class="tk" d="M1762.5,796.5v9.3M1854.5,796.5v9.3M1946.5,796.5v9.3M2038.5,796.5v9.3M2130.5,796.5v9.3M2222.5,796.5v9.3M2314.5,796.5v9.3M1762.5,796.5h-9.3M1762.5,704.5h-9.3M1762.5,612.5h-9.3M1762.5,520.5h-9.3M1762.5,428.5h-9.3M1762.5,336.5h-9.3M1762.5,245.5h-9.3"/>
<text x="1762.5" y="829.8" text-anchor="middle">0</text>
<text x="1854.5" y="829.8" text-anchor="middle">50</text>
<text x="1946.5" y="829.8" text-anchor="middle">100</text>
<text x="2038.5" y="829.8" text-anchor="middle">150</text>
<text x="2130.5" y="829.8" text-anchor="middle">200</text>
<text x="2222.5" y="829.8" text-anchor="middle">250</text>
<text x="2314.5" y="829.8" text-anchor="middle">300</text>
<text x="1743.9" y="803.9" text-anchor="end">−800</text>
<text x="1743.9" y="711.9" text-anchor="end">−750</text>
<text x="1743.9" y="619.9" text-anchor="end">−700</text>
<text x="1743.9" y="527.9" text-anchor="end">−650</text>
<text x="1743.9" y="435.9" text-anchor="end">−600</text>
<text x="1743.9" y="343.9" text-anchor="end">−550</text>
<text x="1743.9" y="252.9" text-anchor="end">−500</text>
<text x="2038.3" y="855.8" text-anchor="middle">x / m</text>
<text transform="translate(1676.2,485) rotate(-90)" text-anchor="middle">y / m</text>
</g>
<g id="cbar1">
<rect x="1518.5" y="825.7" width="42.0" height="86.1" fill="#3d50c3"/>
<rect x="1518.5" y="740.2" width="42.0" height="86.1" fill="#485fd1"/>
<rect x="1518.5" y="654.7" width="42.0" height="86.1" fill="#5875e1"/>
<rect x="1518.5" y="569.2" width="42.0" height="86.1" fill="#6a8bef"/>
<rect x="1518.5" y="483.7" width="42.0" height="86.1" fill="#7da0f9"/>
<rect x="1518.5" y="398.2" width="42.0" height="86.1" fill="#90b2fe"/>
<rect x="1518.5" y="312.7" width="42.0" height="86.1" fill="#a2c1ff"/>
<rect x="1518.5" y="227.2" width="42.0" height="86.1" fill="#b5cdfa"/>
<rect x="1518.5" y="141.7" width="42.0" height="86.1" fill="#c6d6f1"/>
<rect x="1518.5" y="56.2" width="42.0" height="86.1" fill="#dddcdc"/>
<path class="dv" d="M1518.5,826.5H1560.5M1518.5,740.5H1560.5M1518.5,655.5H1560.5M1518.5,569.5H1560.5M1518.5,484.5H1560.5M1518.5,398.5H1560.5M1518.5,313.5H1560.5M1518.5,227.5H1560.5M1518.5,142.5H1560.5"/>
<rect class="sp" x="1518.5" y="56.5" width="42.0" height="855.0"/>
<text x="1570.2" y="918.9">-18.6</text>
<text x="1570.2" y="833.9">-18</text>
<text x="1570.2" y="747.9">-16</text>
<text x="1570.2" y="662.9">-14</text>
<text x="1570.2" y="576.9">-12</text>
<text x="1570.2" y="491.9">-10</text>
<text x="1570.2" y="405.9">-8</text>
<text x="1570.2" y="320.9">-6</text>
<text x="1570.2" y="234.9">-4</text>
<text x="1570.2" y="149.9">-2</text>
<text x="1570.2" y="63.9">-0.2</text>
<path class="tk" d="M1560.5,911.5h4.8M1560.5,826.5h4.8M1560.5,740.5h4.8M1560.5,655.5h4.8M1560.5,569.5h4.8M1560.5,484.5h4.8M1560.5,398.5h4.8M1560.5,313.5h4.8M1560.5,227.5h4.8M1560.5,142.5h4.8M1560.5,56.5h4.8"/>
<text transform="translate(1646.3,484) rotate(-90)" text-anchor="middle">stress <tspan class="i">σ</tspan><tspan class="sub" dy="4.2">xx</tspan><tspan dy="-4.2"> / MPa</tspan></text>
</g>
<g id="cbar2">
<rect x="2348.5" y="840" width="43.0" height="71.8" fill="#3c4ec2"/>
<rect x="2348.5" y="768.7" width="43.0" height="71.8" fill="#445acc"/>
<rect x="2348.5" y="697.5" width="43.0" height="71.8" fill="#536edd"/>
<rect x="2348.5" y="626.2" width="43.0" height="71.8" fill="#6282ea"/>
<rect x="2348.5" y="555" width="43.0" height="71.8" fill="#7396f5"/>
<rect x="2348.5" y="483.7" width="43.0" height="71.8" fill="#84a7fc"/>
<rect x="2348.5" y="412.4" width="43.0" height="71.8" fill="#94b6ff"/>
<rect x="2348.5" y="341.2" width="43.0" height="71.8" fill="#a5c3fe"/>
<rect x="2348.5" y="269.9" width="43.0" height="71.8" fill="#b5cdfa"/>
<rect x="2348.5" y="198.7" width="43.0" height="71.8" fill="#c3d5f4"/>
<rect x="2348.5" y="127.5" width="43.0" height="71.8" fill="#d1dae9"/>
<rect x="2348.5" y="56.2" width="43.0" height="71.8" fill="#dddcdc"/>
<path class="dv" d="M2348.5,840.5H2391.5M2348.5,769.5H2391.5M2348.5,697.5H2391.5M2348.5,626.5H2391.5M2348.5,555.5H2391.5M2348.5,484.5H2391.5M2348.5,412.5H2391.5M2348.5,341.5H2391.5M2348.5,270.5H2391.5M2348.5,199.5H2391.5M2348.5,127.5H2391.5"/>
<rect class="sp" x="2348.5" y="56.5" width="43.0" height="855.0"/>
<text x="2400.7" y="918.9">-22.4</text>
<text x="2400.7" y="847.9">-22</text>
<text x="2400.7" y="776.9">-20</text>
<text x="2400.7" y="704.9">-18</text>
<text x="2400.7" y="633.9">-16</text>
<text x="2400.7" y="562.9">-14</text>
<text x="2400.7" y="491.9">-12</text>
<text x="2400.7" y="419.9">-10</text>
<text x="2400.7" y="348.9">-8</text>
<text x="2400.7" y="277.9">-6</text>
<text x="2400.7" y="206.9">-4</text>
<text x="2400.7" y="134.9">-2</text>
<text x="2400.7" y="63.9">-0.8</text>
<path class="tk" d="M2391.5,911.5h4.8M2391.5,840.5h4.8M2391.5,769.5h4.8M2391.5,697.5h4.8M2391.5,626.5h4.8M2391.5,555.5h4.8M2391.5,484.5h4.8M2391.5,412.5h4.8M2391.5,341.5h4.8M2391.5,270.5h4.8M2391.5,199.5h4.8M2391.5,127.5h4.8M2391.5,56.5h4.8"/>
<text transform="translate(2476.3,484) rotate(-90)" text-anchor="middle">stress <tspan class="i">σ</tspan><tspan class="sub" dy="4.2">yy</tspan><tspan dy="-4.2"> / MPa</tspan></text>
</g>
</svg></body></html>
